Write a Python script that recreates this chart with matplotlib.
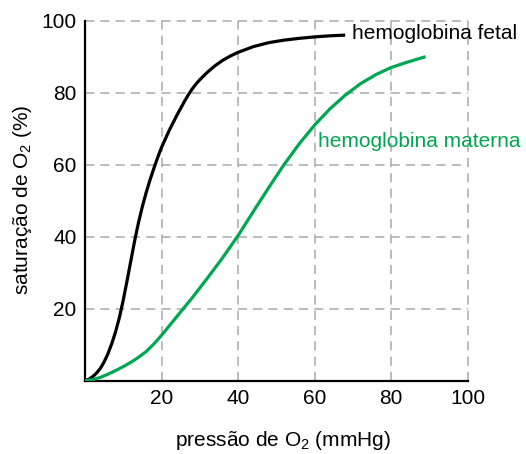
import matplotlib
matplotlib.use("Agg")
import matplotlib.pyplot as plt

# values
fetal_x = [0, 1, 2, 3, 4, 5, 6, 7, 8, 9, 10, 11, 12, 13, 14, 15, 16, 17, 18, 19, 20, 22, 24,
           26, 27, 28, 29, 30, 32, 34, 36, 38, 40, 44, 48, 52, 56, 60, 64, 68]
fetal_y = [0, 0.4, 1.1, 2.1, 3.4, 5.2, 7.5, 10.3, 13.6, 17.6, 22.4, 27.8, 33.4, 39.0, 44.0,
           48.4, 52.3, 55.8, 59, 62, 64.8, 69.5, 73.7, 77.6, 79.4, 81.0, 82.4, 83.6, 85.7,
           87.5, 89.0, 90.2, 91.2, 92.8, 93.9, 94.6, 95.1, 95.5, 95.8, 96]

maternal_x = [0, 2, 4, 6, 8, 10, 12, 14, 16, 18, 20, 22, 24, 28, 32, 36, 40, 44, 48, 52, 56,
              60, 64, 68, 72, 76, 80, 84, 89]
maternal_y = [0, 0.3, 0.9, 1.8, 2.8, 3.9, 5.1, 6.5, 8.1, 10.2, 12.6, 15.2, 17.8, 23, 28.5,
              34.2, 40.3, 47, 53.6, 60, 65.8, 71, 75.5, 79.3, 82.5, 85, 87, 88.4, 90]

ticks = [20, 40, 60, 80, 100]
green = "#00a651"

plt.rcParams["font.family"] = ["Liberation Sans", "DejaVu Sans"]
plt.rcParams["mathtext.default"] = "regular"

fig = plt.figure(figsize=(5.26, 4.54), dpi=100)
ax = fig.add_axes([0.1616, 0.1615, 0.7274, 0.7929])

ax.plot(fetal_x, fetal_y, color="black", lw=2.3, solid_capstyle="butt",
        solid_joinstyle="round", zorder=3)
ax.plot(maternal_x, maternal_y, color=green, lw=2.3, solid_capstyle="butt",
        solid_joinstyle="round", zorder=3)

ax.set_xlim(0, 100)
ax.set_ylim(0, 100)
ax.set_xticks(ticks)
ax.set_yticks(ticks)
ax.tick_params(length=0, labelsize=15, pad=6)
ax.grid(True, color="#aaaaaa", linestyle=(0, (6, 4)), linewidth=1.1, clip_on=False)
ax.set_axisbelow(True)
for s in ["top", "right"]:
    ax.spines[s].set_visible(False)
for s in ["left", "bottom"]:
    ax.spines[s].set_linewidth(1.6)

ax.text(69.8, 96.5, "hemoglobina fetal", fontsize=15, va="center", ha="left")
ax.text(60.8, 66.5, "hemoglobina materna", fontsize=15, va="center", ha="left", color=green)

fig.text(0.538, 0.0176, "pressão de O$_2$ (mmHg)", fontsize=15, ha="center", va="baseline")
fig.text(0.042, 0.56, "saturação de O$_2$ (%)", fontsize=15, ha="center", va="center", rotation=90)

fig.savefig("out.png", dpi=100)
